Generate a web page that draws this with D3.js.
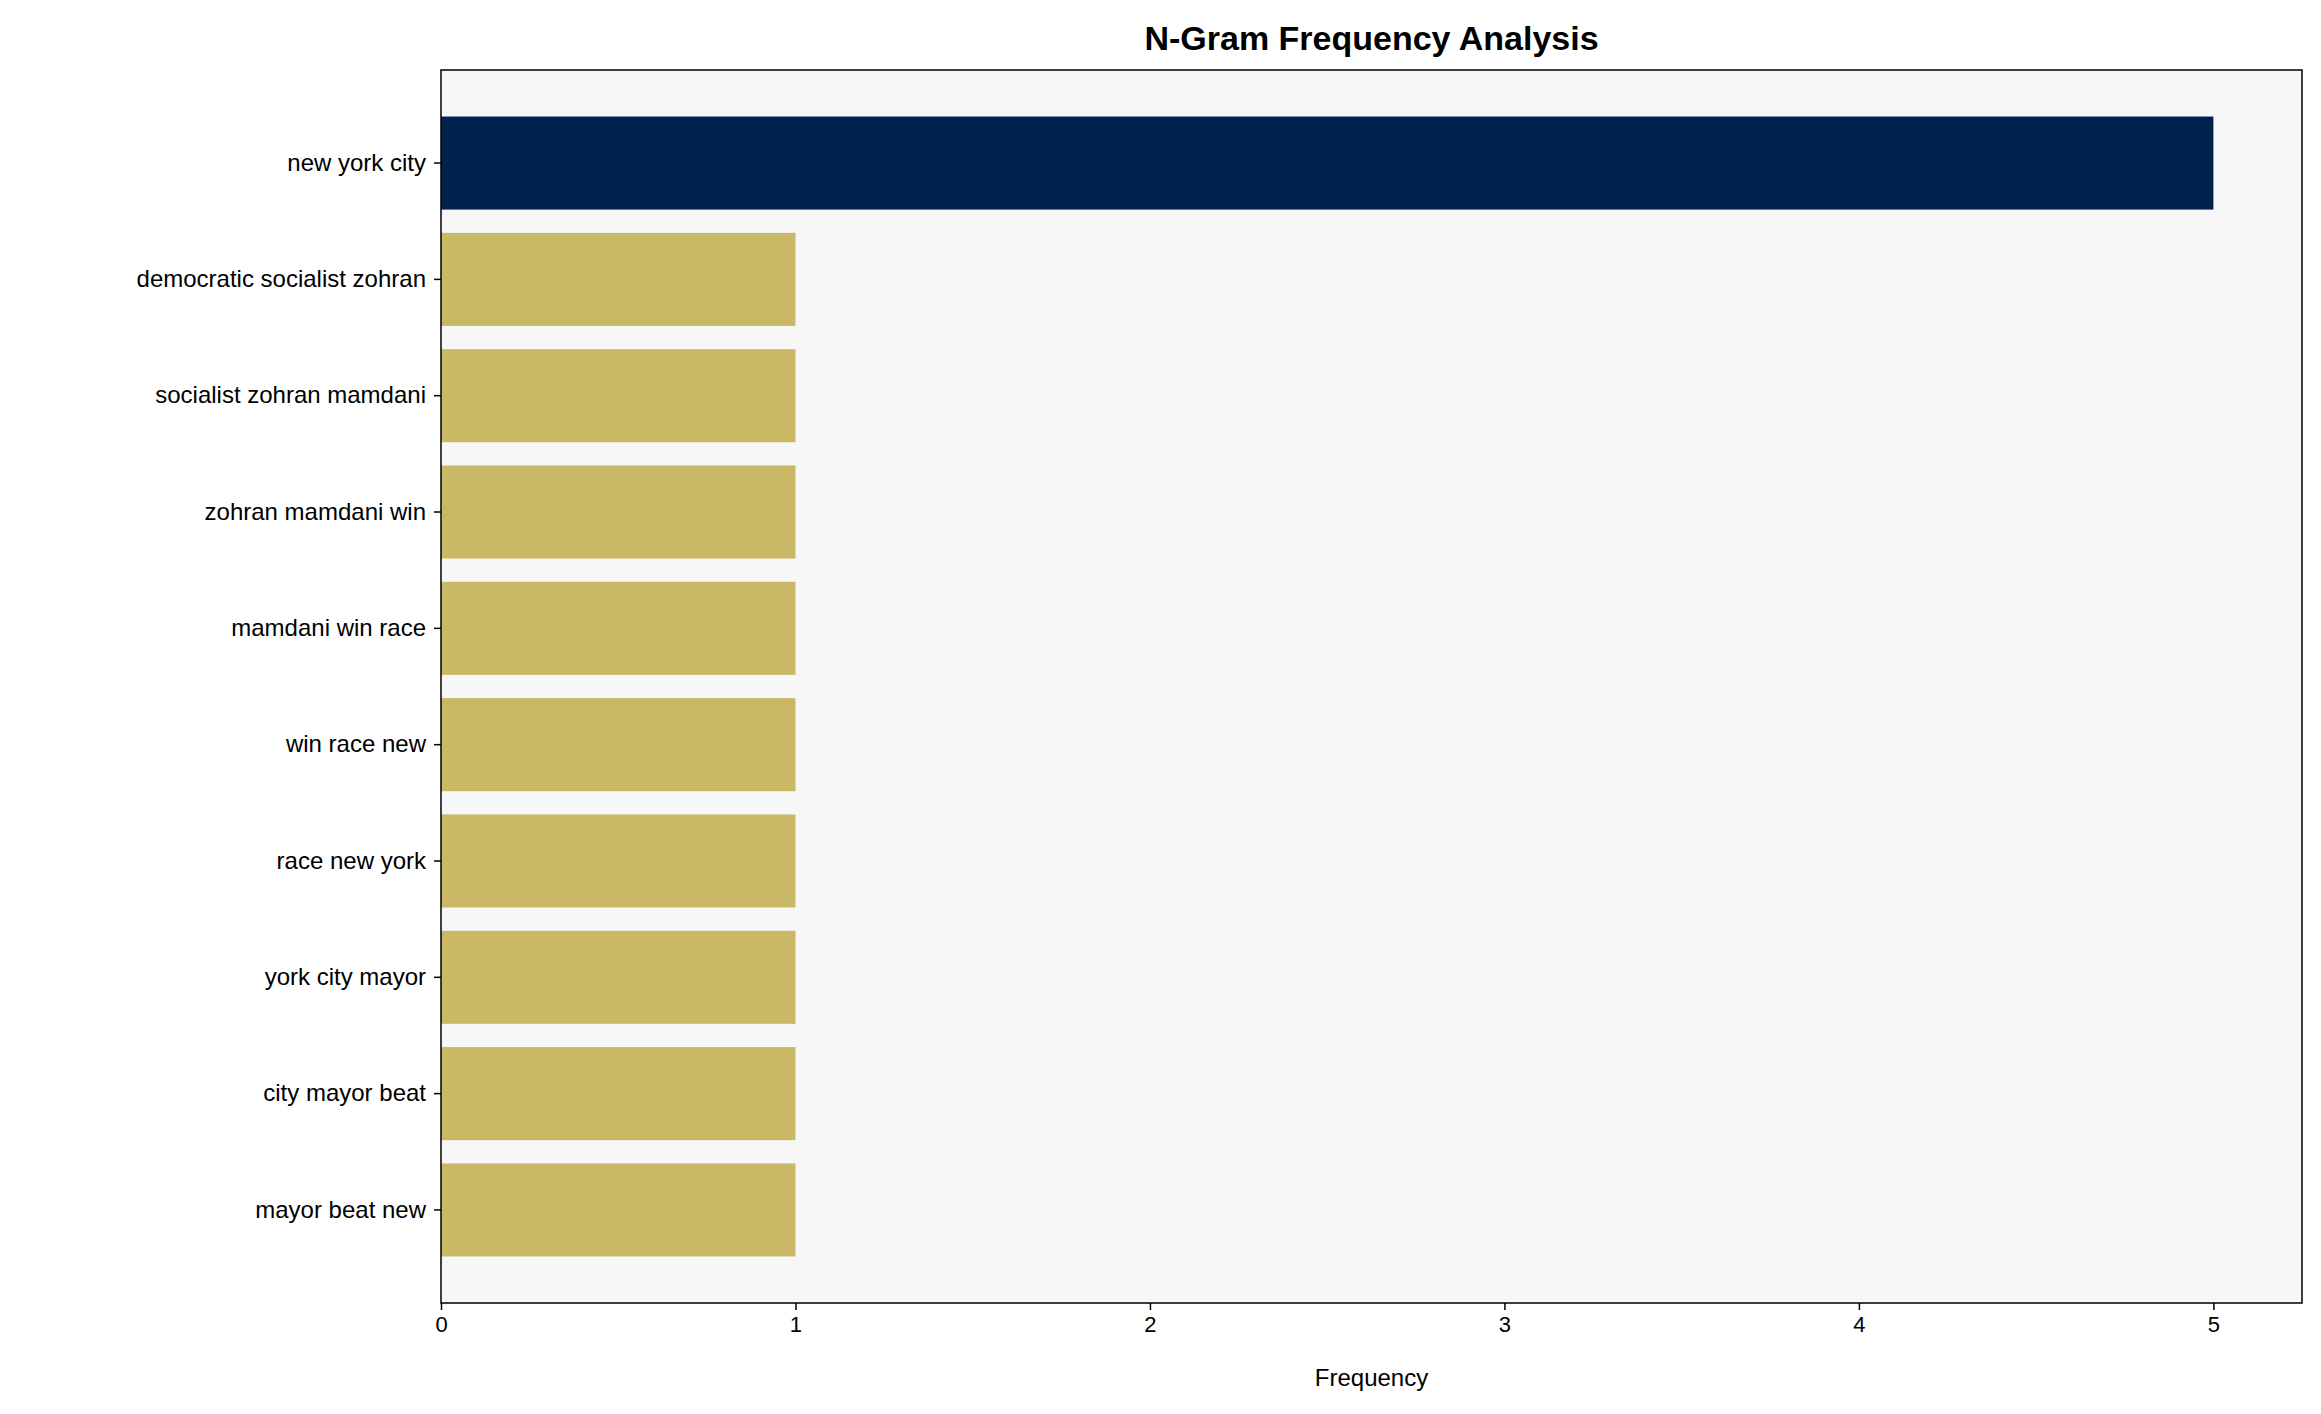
<!DOCTYPE html>
<html>
<head>
<meta charset="utf-8">
<script src="https://cdn.jsdelivr.net/npm/d3@7"></script>
<style>
  body { margin: 0; background: #fff; }
  text { font-family: "Liberation Sans", Arial, sans-serif; }
</style>
</head>
<body>
<div id="chart"></div>
<script>
// n-grams and their counts, top to bottom
const ngrams = ["new york city", "democratic socialist zohran", "socialist zohran mamdani",
    "zohran mamdani win", "mamdani win race", "win race new", "race new york",
    "york city mayor", "city mayor beat", "mayor beat new"];
const counts = [5, 1, 1, 1, 1, 1, 1, 1, 1, 1];
const xTicks = [0, 1, 2, 3, 4, 5];

const W = 2321, H = 1414;
const margin = {top: 70, right: 19, bottom: 111, left: 441},
    width = W - margin.left - margin.right,
    height = H - margin.top - margin.bottom;

const svg = d3.select("#chart").append("svg")
    .attr("width", W).attr("height", H);

// title
svg.append("text")
    .attr("x", margin.left + width / 2).attr("y", 50)
    .attr("text-anchor", "middle")
    .style("font-size", "34px").style("font-weight", "bold")
    .text("N-Gram Frequency Analysis");

const g = svg.append("g")
    .attr("transform", "translate(" + margin.left + "," + margin.top + ")");

g.append("rect").attr("width", width).attr("height", height).attr("fill", "#f7f7f7");

const x = d3.scaleLinear().domain([0, 5.25]).range([0, width]);
const y = d3.scaleBand().domain(ngrams).range([0, height]).paddingInner(0.2).paddingOuter(0.4);

// bars
g.selectAll("rect.bar")
    .data(ngrams)
    .enter().append("rect")
    .attr("class", "bar")
    .attr("x", x(0))
    .attr("y", d => y(d))
    .attr("width", (d, i) => x(counts[i]) - x(0))
    .attr("height", y.bandwidth())
    .attr("fill", (d, i) => counts[i] === 5 ? "#00224e" : "#c9b866");

// frame
g.append("rect").attr("width", width).attr("height", height)
    .attr("fill", "none").attr("stroke", "#000").attr("stroke-width", 1.5);

// axes
const xa = g.append("g")
    .attr("transform", "translate(0," + height + ")")
    .call(d3.axisBottom(x).tickValues(xTicks).tickFormat(d3.format("d")).tickSize(7).tickPadding(6));
xa.select(".domain").remove();
xa.selectAll("text").style("font-size", "22px").attr("fill", "#000");
xa.selectAll("line").attr("stroke-width", 1.5);

const ya = g.append("g")
    .call(d3.axisLeft(y).tickSize(7).tickPadding(8));
ya.select(".domain").remove();
ya.selectAll("text").style("font-size", "24px").attr("fill", "#000");
ya.selectAll("line").attr("stroke-width", 1.5);

svg.append("text")
    .attr("x", margin.left + width / 2).attr("y", 1386)
    .attr("text-anchor", "middle")
    .style("font-size", "24px")
    .text("Frequency");
</script>
</body>
</html>
